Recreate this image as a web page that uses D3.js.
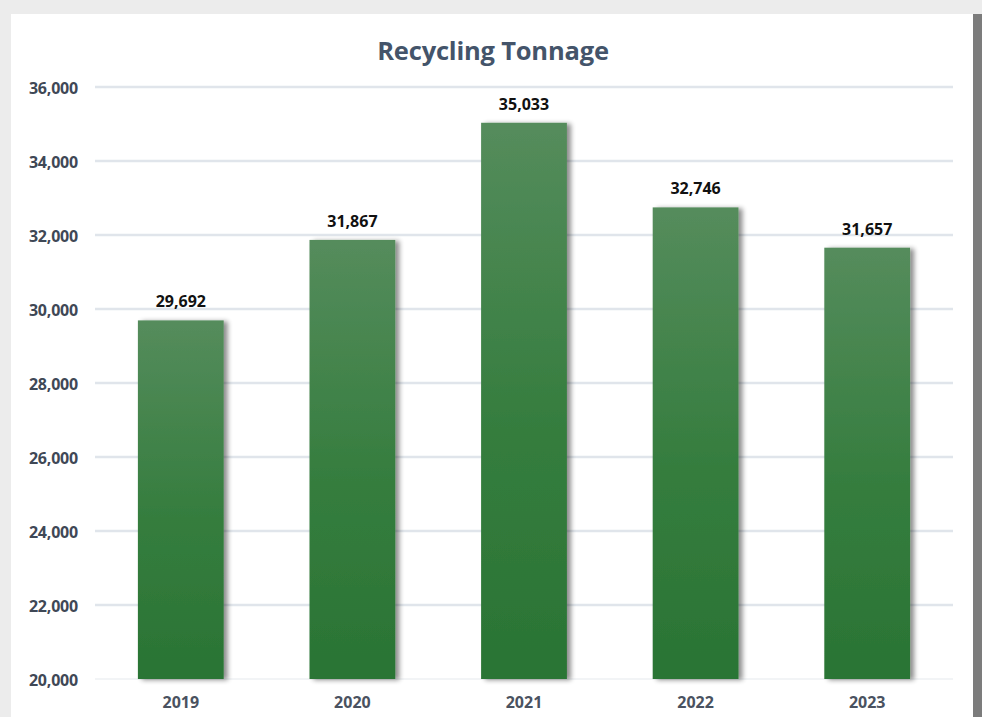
<!DOCTYPE html>
<html>
<head>
<meta charset="utf-8">
<script src="https://cdn.jsdelivr.net/npm/d3@7"></script>
<style>
  body { margin: 0; background: #ececec; }
  #chart { width: 982px; height: 717px; }
</style>
</head>
<body>
<div id="chart"></div>
<script>
// Chart data
const years = ["2019", "2020", "2021", "2022", "2023"];
const tonnage = [29692, 31867, 35033, 32746, 31657];
const yTicks = [20000, 22000, 24000, 26000, 28000, 30000, 32000, 34000, 36000];

const W = 982, H = 717;
const plot = { left: 95, right: 953, top: 87, bottom: 679 };
const labelFont = "'Open Sans', sans-serif";

const svg = d3.select("#chart")
    .append("svg")
    .attr("width", W)
    .attr("height", H);

const defs = svg.append("defs");

// Bar gradient, lighter green on top
const grad = defs.append("linearGradient")
    .attr("id", "barGrad")
    .attr("x1", 0).attr("y1", 0).attr("x2", 0).attr("y2", 1);
grad.append("stop").attr("offset", "0%").attr("stop-color", "#558c5c");
grad.append("stop").attr("offset", "55%").attr("stop-color", "#357d3e");
grad.append("stop").attr("offset", "100%").attr("stop-color", "#2a7434");

// Soft shadow to the right of the bars
const shadow = defs.append("filter")
    .attr("id", "barShadow")
    .attr("x", "-20%").attr("y", "-10%").attr("width", "150%").attr("height", "120%");
shadow.append("feGaussianBlur").attr("in", "SourceAlpha").attr("stdDeviation", 2.5);
shadow.append("feOffset").attr("dx", 4).attr("dy", 1).attr("result", "off");
shadow.append("feComponentTransfer").append("feFuncA").attr("type", "linear").attr("slope", 0.45);
const merge = shadow.append("feMerge");
merge.append("feMergeNode");
merge.append("feMergeNode").attr("in", "SourceGraphic");

// Background and white panel
svg.append("rect").attr("width", W).attr("height", H).attr("fill", "#ececec");
svg.append("rect")
    .attr("x", 973).attr("y", 14).attr("width", 9).attr("height", H - 14)
    .attr("fill", "#7c7c7c");
svg.append("rect")
    .attr("x", 11).attr("y", 14).attr("width", 962).attr("height", H - 14)
    .attr("fill", "#ffffff");

// Scales
const xScale = d3.scaleBand()
    .domain(years)
    .range([plot.left, plot.right])
    .paddingInner(0.5)
    .paddingOuter(0.25);

const yScale = d3.scaleLinear()
    .domain([20000, 36000])
    .range([plot.bottom, plot.top]);

// Gridlines
svg.append("g")
    .selectAll("line")
    .data(yTicks.slice(1))
    .enter()
    .append("line")
    .attr("x1", plot.left)
    .attr("x2", plot.right)
    .attr("y1", d => yScale(d))
    .attr("y2", d => yScale(d))
    .attr("stroke", "#e0e5eb")
    .attr("stroke-width", 2.5);

// Baseline
svg.append("line")
    .attr("x1", plot.left).attr("x2", plot.right)
    .attr("y1", yScale(20000)).attr("y2", yScale(20000))
    .attr("stroke", "#e6e9ed")
    .attr("stroke-width", 1.2);

// Y axis
const yAxis = d3.axisLeft(yScale)
    .tickValues(yTicks)
    .tickFormat(d3.format(","))
    .tickSize(0)
    .tickPadding(0);

const yG = svg.append("g")
    .attr("transform", `translate(78,1)`)
    .call(yAxis);
yG.select(".domain").remove();
yG.selectAll("text")
    .attr("font-family", labelFont)
    .attr("font-size", 16)
    .attr("font-weight", "bold")
    .attr("letter-spacing", -0.2)
    .attr("fill", "#3f4856");

// X axis
const xAxis = d3.axisBottom(xScale).tickSize(0).tickPadding(0);
const xG = svg.append("g")
    .attr("transform", `translate(0,${plot.bottom + 18})`)
    .call(xAxis);
xG.select(".domain").remove();
xG.selectAll("text")
    .attr("font-family", labelFont)
    .attr("font-size", 16)
    .attr("font-weight", "bold")
    .attr("fill", "#4a5260");

const data = years.map((y, i) => ({ year: y, value: tonnage[i] }));

// Bars
svg.selectAll(".bar")
    .data(data)
    .enter()
    .append("rect")
    .attr("class", "bar")
    .attr("x", d => xScale(d.year))
    .attr("y", d => yScale(d.value))
    .attr("width", xScale.bandwidth())
    .attr("height", d => yScale(20000) - yScale(d.value))
    .attr("fill", "url(#barGrad)")
    .attr("filter", "url(#barShadow)");

// Value labels
svg.selectAll(".label")
    .data(data)
    .enter()
    .append("text")
    .attr("class", "label")
    .attr("x", d => xScale(d.year) + xScale.bandwidth() / 2)
    .attr("y", d => yScale(d.value) - 13)
    .attr("text-anchor", "middle")
    .attr("font-family", labelFont)
    .attr("font-size", 16)
    .attr("font-weight", "bold")
    .attr("fill", "#111111")
    .text(d => d3.format(",")(d.value));

// Title
svg.append("text")
    .attr("x", 493)
    .attr("y", 60)
    .attr("text-anchor", "middle")
    .attr("font-family", "'Open Sans', sans-serif")
    .attr("font-size", 25.5)
    .attr("font-weight", "bold")
    .attr("letter-spacing", -0.2)
    .attr("fill", "#44546a")
    .text("Recycling Tonnage");
</script>
</body>
</html>
